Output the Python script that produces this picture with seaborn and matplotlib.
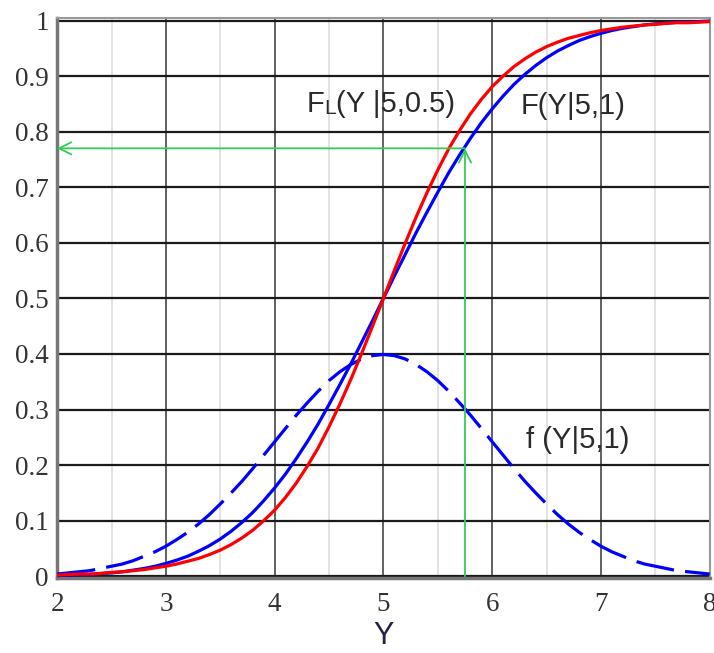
import numpy as np
import pandas as pd
import matplotlib
matplotlib.use("Agg")
import matplotlib.pyplot as plt
import seaborn as sns

# values
y_vals = [2.0, 2.1, 2.2, 2.3, 2.4, 2.5, 2.6, 2.7, 2.8, 2.9,
          3.0, 3.1, 3.2, 3.3, 3.4, 3.5, 3.6, 3.7, 3.8, 3.9,
          4.0, 4.1, 4.2, 4.3, 4.4, 4.5, 4.6, 4.7, 4.8, 4.9,
          5.0, 5.1, 5.2, 5.3, 5.4, 5.5, 5.6, 5.7, 5.8, 5.9,
          6.0, 6.1, 6.2, 6.3, 6.4, 6.5, 6.6, 6.7, 6.8, 6.9,
          7.0, 7.1, 7.2, 7.3, 7.4, 7.5, 7.6, 7.7, 7.8, 7.9, 8.0]
cdf_normal = [0.001, 0.002, 0.003, 0.003, 0.005, 0.006, 0.008, 0.011, 0.014, 0.018,
              0.023, 0.029, 0.036, 0.045, 0.055, 0.067, 0.081, 0.097, 0.115, 0.136,
              0.159, 0.184, 0.212, 0.242, 0.274, 0.309, 0.345, 0.382, 0.421, 0.460,
              0.500, 0.540, 0.579, 0.618, 0.655, 0.691, 0.726, 0.758, 0.788, 0.816,
              0.841, 0.864, 0.885, 0.903, 0.919, 0.933, 0.945, 0.955, 0.964, 0.971,
              0.977, 0.982, 0.986, 0.989, 0.992, 0.994, 0.995, 0.997, 0.997, 0.998, 0.999]
cdf_logistic = [0.002, 0.003, 0.004, 0.004, 0.005, 0.007, 0.008, 0.010, 0.012, 0.015,
                0.018, 0.022, 0.027, 0.032, 0.039, 0.047, 0.057, 0.069, 0.083, 0.100,
                0.119, 0.142, 0.168, 0.198, 0.231, 0.269, 0.310, 0.354, 0.401, 0.450,
                0.500, 0.550, 0.599, 0.646, 0.690, 0.731, 0.769, 0.802, 0.832, 0.858,
                0.881, 0.900, 0.917, 0.931, 0.943, 0.953, 0.961, 0.968, 0.973, 0.978,
                0.982, 0.985, 0.988, 0.990, 0.992, 0.993, 0.995, 0.996, 0.996, 0.997, 0.998]
pdf_normal = [0.004, 0.006, 0.008, 0.010, 0.014, 0.018, 0.022, 0.028, 0.036, 0.044,
              0.054, 0.066, 0.079, 0.094, 0.111, 0.130, 0.150, 0.171, 0.194, 0.218,
              0.242, 0.266, 0.290, 0.312, 0.333, 0.352, 0.368, 0.381, 0.391, 0.397,
              0.399, 0.397, 0.391, 0.381, 0.368, 0.352, 0.333, 0.312, 0.290, 0.266,
              0.242, 0.218, 0.194, 0.171, 0.150, 0.130, 0.111, 0.094, 0.079, 0.066,
              0.054, 0.044, 0.036, 0.028, 0.022, 0.018, 0.014, 0.010, 0.008, 0.006, 0.004]

x_ticks = [2, 3, 4, 5, 6, 7, 8]
x_minor = [2.5, 3.5, 4.5, 5.5, 6.5, 7.5]
y_ticks = [0, 0.1, 0.2, 0.3, 0.4, 0.5, 0.6, 0.7, 0.8, 0.9, 1]
y_tick_labels = ["0", "0.1", "0.2", "0.3", "0.4", "0.5", "0.6", "0.7", "0.8", "0.9", "1"]

# the green read-off guide
guide_x, guide_y = 5.75, 0.77

df = pd.DataFrame({"Y": y_vals, "F": cdf_normal, "FL": cdf_logistic, "f": pdf_normal})

sns.set_style("white")

fig = plt.figure(figsize=(7.14, 6.53), dpi=100)
ax = fig.add_axes([0.080, 0.115, 0.914, 0.857])

# grid
for v in x_minor:
    ax.axvline(v, color="#dddddd", lw=1.2, zorder=0)
for v in x_ticks:
    ax.axvline(v, color="#555555", lw=1.3, zorder=0)
for v in y_ticks:
    ax.axhline(v, color="#1a1a1a", lw=1.6, zorder=0.5)

line_w = 2.3
sns.lineplot(data=df, x="Y", y="f", ax=ax, color="#0000ff", lw=line_w, zorder=3)
ax.lines[-1].set_dashes((12, 3.5))
sns.lineplot(data=df, x="Y", y="F", ax=ax, color="#0000ff", lw=line_w, zorder=3)
sns.lineplot(data=df, x="Y", y="FL", ax=ax, color="#ff0000", lw=line_w, zorder=3)

green = "#33cc55"
ax.annotate("", xy=(guide_x, guide_y), xytext=(guide_x, 0),
            arrowprops=dict(arrowstyle="->", color=green, lw=1.3, mutation_scale=22,
                            shrinkA=0, shrinkB=0), zorder=4)
ax.annotate("", xy=(2.0, guide_y), xytext=(guide_x, guide_y),
            arrowprops=dict(arrowstyle="->", color=green, lw=1.3, mutation_scale=22,
                            shrinkA=0, shrinkB=0), zorder=4)

fam = "Liberation Sans"
txt = dict(fontsize=21, color="#2a2a2a", family=fam, zorder=5)
ax.text(6.26, 0.846, "F(Y|5,1)", va="center", **txt)
ax.text(6.31, 0.246, "f (Y|5,1)", va="center", **txt)
# F with a small capital L, then the rest
t1 = ax.text(4.29, 0.824, "F", va="bottom", **txt)
t2 = ax.annotate("L", xy=(1, 0), xycoords=t1, va="bottom", ha="left",
                 fontsize=15, color="#2a2a2a", family=fam, zorder=5)
ax.annotate("(Y |5,0.5)", xy=(1, 0), xycoords=t2, va="bottom", ha="left", **txt)

ax.set_xlim(2, 8)
ax.set_ylim(-0.003, 1.004)
ax.set_xticks(x_ticks)
ax.set_xticklabels([str(t) for t in x_ticks])
ax.set_yticks(y_ticks)
ax.set_yticklabels(y_tick_labels)
ax.tick_params(axis="both", which="both", length=4, color="#999999", width=1,
               labelsize=19.5, labelcolor="#333333")
ax.tick_params(axis="x", pad=6)
ax.tick_params(axis="y", pad=2)
for lab in ax.get_xticklabels() + ax.get_yticklabels():
    lab.set_family("Liberation Serif")

ax.set_xlabel("Y", fontsize=22, family=fam, color="#222244")
ax.xaxis.label.set_va("center")
ax.xaxis.set_label_coords(0.5, -0.104)
ax.set_ylabel("")

for side in ["left", "bottom"]:
    ax.spines[side].set_color("#777777")
    ax.spines[side].set_linewidth(2.5)
for side in ["top", "right"]:
    ax.spines[side].set_color("#999999")
    ax.spines[side].set_linewidth(1.5)

fig.savefig("out.png", dpi=100)
